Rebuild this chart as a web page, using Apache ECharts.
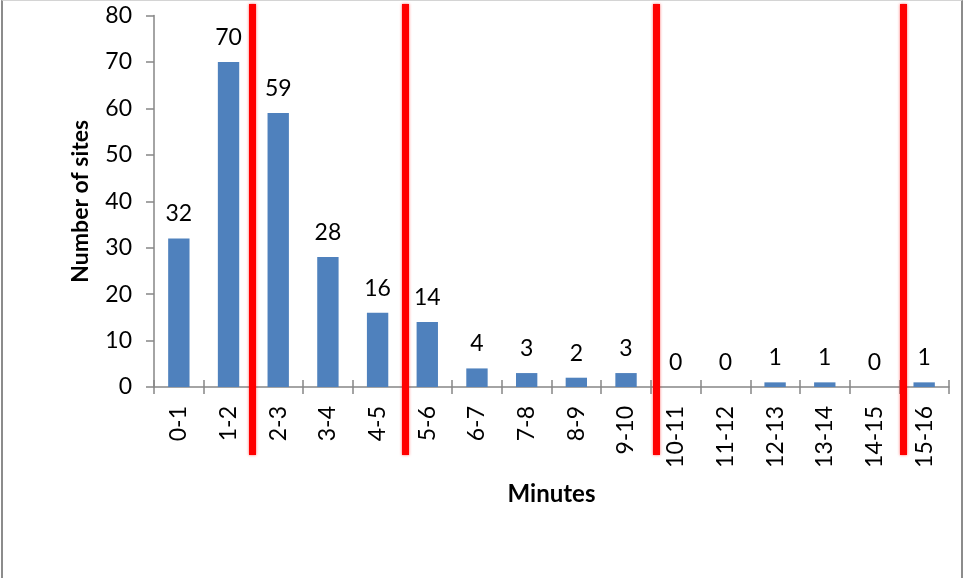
<!DOCTYPE html>
<html>
<head>
<meta charset="utf-8">
<script src="https://cdn.jsdelivr.net/npm/echarts@6/dist/echarts.min.js"></script>
<style>
  html, body { margin: 0; padding: 0; background: #fff; }
  #wrap { position: relative; width: 965px; height: 578px; overflow: hidden; }
  #mychart { position: absolute; left: 0; top: 0; width: 965px; height: 578px; }
  /* chart area frame, as in the exported sheet */
  #frame {
    position: absolute; left: 1px; top: 0; width: 958px; height: 620px;
    border-left: 2px solid #8c8c8c; border-right: 2px solid #8c8c8c;
    border-top: 1px solid #d4d4d4; pointer-events: none;
  }
</style>
</head>
<body>
<div id="wrap">
  <div id="mychart"></div>
  <div id="frame"></div>
</div>
<script>
// categories (minutes) and number of sites
const minutes = ['0-1', '1-2', '2-3', '3-4', '4-5', '5-6', '6-7', '7-8', '8-9', '9-10',
  '10-11', '11-12', '12-13', '13-14', '14-15', '15-16'];
const sites = [32, 70, 59, 28, 16, 14, 4, 3, 2, 3, 0, 0, 1, 1, 0, 1];
// red markers drawn over the chart, in category units from the left edge
const redLines = [1.97, 5.05, 10.1, 15.08];

const font = 'Lato, "Open Sans", sans-serif';
const axisGray = '#868686';

let myChart = echarts.init(document.getElementById('mychart'));

let option = {
  animation: false,
  textStyle: { fontFamily: font, color: '#000' },
  grid: [
    { left: 154, right: 16, top: 15.5, bottom: 191 },
    // same width, taller: the red lines run past the plot area
    { left: 154, right: 16, top: 4, bottom: 123 },
  ],
  xAxis: [
    {
      type: 'category',
      data: minutes,
      gridIndex: 0,
      name: 'Minutes',
      nameLocation: 'middle',
      nameGap: 95,
      nameTextStyle: { fontFamily: font, fontSize: 24, fontWeight: 'bold', color: '#000' },
      axisLine: { lineStyle: { color: axisGray, width: 1.5 } },
      axisTick: { show: true, length: 7, lineStyle: { color: axisGray, width: 1.5 } },
      axisLabel: {
        rotate: 90,
        margin: 19,
        fontSize: 23,
        color: '#000',
        fontFamily: font,
        interval: 0,
      },
    },
    {
      // cross tick marks: inner half
      type: 'category',
      data: minutes,
      gridIndex: 0,
      position: 'bottom',
      axisLine: { show: false },
      axisTick: { show: true, inside: true, length: 7, lineStyle: { color: axisGray, width: 1.5 } },
      axisLabel: { show: false },
    },
    {
      type: 'value',
      gridIndex: 1,
      min: 0,
      max: 16,
      show: false,
    },
  ],
  yAxis: [
    {
      type: 'value',
      gridIndex: 0,
      min: 0,
      max: 80,
      interval: 10,
      name: 'Number of sites',
      nameLocation: 'middle',
      nameGap: 62,
      nameTextStyle: { fontFamily: font, fontSize: 23, fontWeight: 'bold', color: '#000' },
      axisLine: { show: true, lineStyle: { color: axisGray, width: 1.5 } },
      axisTick: { show: true, length: 8, lineStyle: { color: axisGray, width: 1.5 } },
      splitLine: { show: false },
      axisLabel: { fontSize: 23, color: '#000', fontFamily: font, margin: 22 },
    },
    {
      type: 'value',
      gridIndex: 1,
      min: 0,
      max: 1,
      show: false,
    },
  ],
  series: [
    {
      name: 'sites',
      type: 'bar',
      xAxisIndex: 0,
      yAxisIndex: 0,
      data: sites,
      barWidth: '43%',
      itemStyle: { color: '#4F81BD' },
      label: {
        show: true,
        position: 'top',
        distance: 13,
        fontSize: 23,
        fontFamily: font,
        color: '#000',
      },
    },
    {
      name: 'markers',
      type: 'scatter',
      xAxisIndex: 2,
      yAxisIndex: 1,
      data: [],
      silent: true,
      markLine: {
        silent: true,
        symbol: ['none', 'none'],
        label: { show: false },
        lineStyle: {
          color: '#ff0000',
          width: 7,
          type: 'solid',
          shadowColor: 'rgba(255, 0, 0, 0.6)',
          shadowBlur: 3,
        },
        data: redLines.map((v) => ({ xAxis: v })),
      },
    },
  ],
};

myChart.setOption(option);
</script>
</body>
</html>
